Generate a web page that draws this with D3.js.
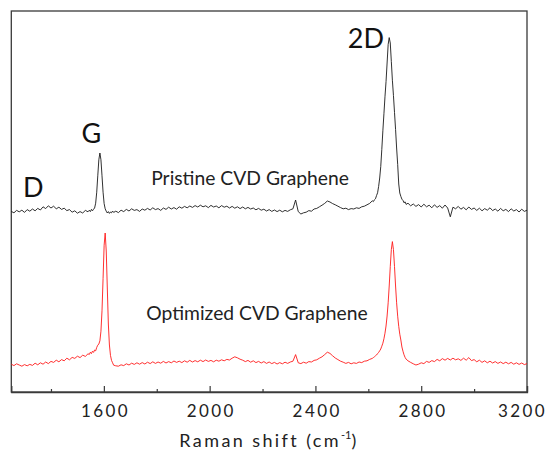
<!DOCTYPE html>
<html>
<head>
<meta charset="utf-8">
<script src="https://cdn.jsdelivr.net/npm/d3@7"></script>
<style>
  html, body { margin: 0; padding: 0; background: #fff; }
  svg { display: block; }
</style>
</head>
<body>
<svg id="chart" width="551" height="454"></svg>
<script>
// Raman shift grid (cm^-1)
const shift = [
  1250,1260,1270,1280,1290,1300,1310,1320,1330,1340,
  1350,1360,1370,1380,1390,1400,1410,1420,1430,1440,
  1450,1460,1470,1480,1490,1500,1510,1520,1530,1540,
  1545,1549,1553,1557,1561,1565,1569,1573,1577,1581,
  1585,1589,1593,1597,1601,1605,1609,1613,1617,1621,
  1625,1629,1633,1637,
  1645,1655,1665,1675,1685,1695,1705,1715,1725,1735,
  1745,1755,1765,1775,1785,1795,1805,1815,1825,1835,
  1845,1855,1865,1875,1885,1895,1905,1915,1925,1935,
  1945,1955,1965,1975,1985,1995,2005,2015,2025,2035,
  2045,2055,2065,2075,2085,2095,2105,2115,2125,2135,
  2145,2155,2165,2175,2185,2195,2205,2215,2225,2235,
  2245,2255,2265,2275,2285,2295,2305,2315,2325,2335,
  2345,2355,2365,2375,2385,2395,2405,2415,2425,2435,
  2445,2455,2465,2475,2485,2495,2505,2515,2525,2535,
  2545,2555,2565,2575,2585,2595,2605,2615,
  2619,2623,2627,2631,2635,2639,2643,2647,2651,2655,
  2659,2663,2667,2671,2675,2679,2683,2687,2691,2695,
  2699,2703,2707,2711,2715,2719,2723,2727,2731,2735,
  2739,2743,
  2750,2760,2770,2780,2790,2800,2810,2820,2830,2840,
  2850,2860,2870,2880,2890,2900,2910,2920,2930,2940,
  2950,2960,2970,2980,2990,3000,3010,3020,3030,3040,
  3050,3060,3070,3080,3090,3100,3110,3120,3130,3140,
  3150,3160,3170,3180,3190,3200
];

// Intensity (a.u.), Pristine CVD Graphene
const pristine = [
  90.3,89.6,90.8,90.1,90.9,89.8,91.2,90.4,91.5,90.6,
  91.8,91.0,92.6,91.7,93.1,92.0,92.9,91.6,92.4,91.3,
  91.9,90.7,91.2,89.9,90.6,89.4,90.2,89.5,90.8,90.1,
  90.9,90.2,91.3,90.6,91.4,92.0,94.4,99.9,108.1,116.1,
  119.5,116.1,108.1,99.9,94.2,91.6,90.4,89.5,90.2,89.3,
  90.0,89.6,90.5,89.8,
  90.4,89.7,90.9,90.2,91.3,90.5,91.6,90.8,91.2,90.3,
  91.5,90.9,91.8,91.0,92.1,91.2,91.7,90.8,92.0,91.3,
  92.4,91.5,92.2,91.4,92.6,91.9,92.8,92.1,93.0,92.3,
  93.2,92.5,93.4,92.6,93.1,92.2,93.3,92.5,93.0,92.1,
  93.2,92.4,92.9,92.0,92.8,91.9,92.6,91.7,92.5,91.6,
  92.3,91.5,92.0,91.1,91.8,90.9,91.4,90.5,91.2,90.3,
  91.0,90.2,90.9,90.1,90.8,90.3,91.1,91.6,96.0,90.2,
  89.0,89.6,89.9,90.7,90.4,91.5,91.8,92.6,93.4,94.3,
  95.5,95.0,94.2,93.6,92.9,92.2,91.6,91.9,91.2,91.7,
  91.5,92.1,91.8,92.6,92.9,93.6,94.3,95.6,
  95.2,96.1,96.6,98.2,99.6,102.8,107.0,112.8,121.3,130.6,
  139.1,147.6,155.2,164.5,173.8,177.2,174.5,165.2,155.9,148.3,
  139.8,131.3,122.0,113.8,104.0,99.5,97.8,96.4,95.8,94.6,
  95.1,93.8,
  94.4,93.1,94.0,92.8,93.7,92.5,93.9,92.6,93.4,92.1,
  93.6,92.3,93.2,91.9,93.5,92.0,87.6,92.4,91.6,92.8,
  91.4,92.3,91.1,92.5,91.3,92.0,90.8,91.9,90.6,91.7,
  90.9,92.1,90.7,91.5,90.4,91.8,90.6,91.3,90.2,91.6,
  90.5,91.2,90.0,91.4,90.3,90.9
];

// Intensity (a.u.), Optimized CVD Graphene
const optimized = [
  13.9,13.2,14.1,13.5,12.9,13.7,13.1,13.8,13.3,14.4,
  13.6,14.6,13.9,15.0,14.2,15.3,14.8,15.9,15.1,16.2,
  15.6,16.9,16.1,17.3,16.8,17.9,17.2,18.4,17.8,19.1,
  18.8,19.9,19.2,20.4,19.8,21.0,20.6,22.3,23.4,24.0,
  25.6,30.4,40.6,56.7,73.4,79.5,70.5,52.0,34.0,23.5,
  18.3,15.8,14.6,13.4,
  13.1,12.9,13.6,13.2,14.1,13.5,14.4,13.8,14.6,13.9,
  14.7,14.0,14.9,14.2,15.1,14.3,15.0,14.4,15.3,14.5,
  15.2,14.6,15.5,14.8,15.4,14.7,15.6,14.9,15.8,15.0,
  15.7,15.1,15.9,15.2,16.0,15.3,15.8,15.1,15.9,15.4,
  16.1,15.6,16.3,16.0,16.9,17.6,17.1,16.4,15.9,15.2,
  15.8,14.9,15.6,14.7,15.3,14.5,15.2,14.3,15.0,14.2,
  14.8,14.0,14.7,14.1,14.9,14.3,15.0,15.4,18.7,14.6,
  14.2,14.9,14.4,15.2,15.0,15.8,16.1,16.9,17.6,18.7,
  19.9,19.3,18.1,17.0,16.2,15.4,14.9,14.3,14.8,14.1,
  14.6,14.3,15.0,14.7,15.4,15.6,16.3,16.8,
  17.2,17.6,18.1,18.5,19.2,19.8,20.6,21.5,22.9,24.4,
  26.6,29.4,33.0,38.0,44.6,53.0,62.7,71.2,75.2,71.2,
  62.7,53.0,44.6,37.9,32.8,28.9,26.0,22.5,20.4,18.6,
  17.3,16.4,
  15.6,14.8,14.1,13.5,13.9,14.6,14.2,15.3,14.8,15.7,
  15.2,16.3,15.6,16.7,15.9,16.8,16.0,16.9,16.1,16.6,
  15.8,16.9,15.9,17.2,15.7,16.2,15.1,15.9,14.8,15.6,
  14.6,15.4,14.5,15.2,14.3,15.0,14.2,14.9,14.1,14.8,
  13.9,14.6,13.8,14.5,13.7,14.2
];

const majorTicks = [1600, 2000, 2400, 2800, 3200];
const minorTicks = [1400, 1800, 2200, 2600, 3000];

// Peak / series annotations anchored in data units (shift, intensity)
const peakNames = ["D", "G", "2D"];
const peakShift = [1294, 1553, 2591];
const peakLevel = [97.5, 124.5, 172];
const seriesNames = ["Pristine CVD Graphene", "Optimized CVD Graphene"];
const seriesLabelShift = [2153, 2179];
const seriesLabelLevel = [103.5, 36];

const svg = d3.select("#chart");
const x = d3.scaleLinear().domain([1250, 3200]).range([11.3, 527]);
const y = d3.scaleLinear().domain([0, 190.5]).range([392, 11]);
const font = "Lato, 'Open Sans', sans-serif";

// frame
svg.append("rect")
  .attr("x", x.range()[0]).attr("y", y.range()[1])
  .attr("width", x.range()[1] - x.range()[0])
  .attr("height", y.range()[0] - y.range()[1])
  .attr("fill", "none").attr("stroke", "#3a3a3a").attr("stroke-width", 1.3);

// spectra
const line = vals => d3.line()
  .x((d, i) => x(shift[i]))
  .y(d => y(d))(vals);

svg.append("path").attr("d", line(pristine))
  .attr("fill", "none").attr("stroke", "#1a1a1a").attr("stroke-width", 0.9)
  .attr("stroke-linejoin", "round");
svg.append("path").attr("d", line(optimized))
  .attr("fill", "none").attr("stroke", "#ff1a1a").attr("stroke-width", 0.9)
  .attr("stroke-linejoin", "round");

// axes
const gx = svg.append("g").attr("transform", `translate(0,${y.range()[0]})`);
gx.call(d3.axisBottom(x).tickValues(majorTicks).tickSize(-6).tickPadding(13).tickFormat(d3.format("d")));
gx.select(".domain").attr("stroke", "#3a3a3a").attr("stroke-width", 1.3);
gx.selectAll(".tick line").attr("stroke", "#3a3a3a").attr("stroke-width", 1.2);
gx.selectAll(".tick text")
  .attr("font-family", font).attr("font-size", 17).attr("fill", "#222")
  .attr("letter-spacing", "2.4px")
  .attr("dx", d => d === 3200 ? "-5px" : "1.2px");

const gm = svg.append("g").attr("transform", `translate(0,${y.range()[0]})`);
gm.call(d3.axisBottom(x).tickValues(minorTicks).tickSize(-3).tickFormat(""));
gm.select(".domain").remove();
gm.selectAll(".tick line").attr("stroke", "#3a3a3a").attr("stroke-width", 1.2);

// axis title
const title = svg.append("text")
  .attr("x", 269).attr("y", 447)
  .attr("text-anchor", "middle")
  .attr("font-family", font).attr("font-size", 18).attr("fill", "#222")
  .attr("letter-spacing", "2.4px");
title.append("tspan").text("Raman shift (cm");
title.append("tspan").attr("font-size", 11).attr("dy", -8).attr("letter-spacing", "0px").text("-1");
title.append("tspan").attr("dy", 8).text(")");

// peak labels
svg.selectAll(".peak").data(peakNames).enter().append("text")
  .attr("class", "peak")
  .attr("x", (d, i) => x(peakShift[i]))
  .attr("y", (d, i) => y(peakLevel[i]))
  .attr("text-anchor", (d, i) => i === 0 ? "start" : "middle")
  .attr("font-family", font).attr("font-size", 27).attr("fill", "#111")
  .text(d => d);

// series labels
svg.selectAll(".series").data(seriesNames).enter().append("text")
  .attr("class", "series")
  .attr("x", (d, i) => x(seriesLabelShift[i]))
  .attr("y", (d, i) => y(seriesLabelLevel[i]))
  .attr("text-anchor", "middle")
  .attr("font-family", font).attr("font-size", 19.3).attr("fill", "#222")
  .text(d => d);
</script>
</body>
</html>
